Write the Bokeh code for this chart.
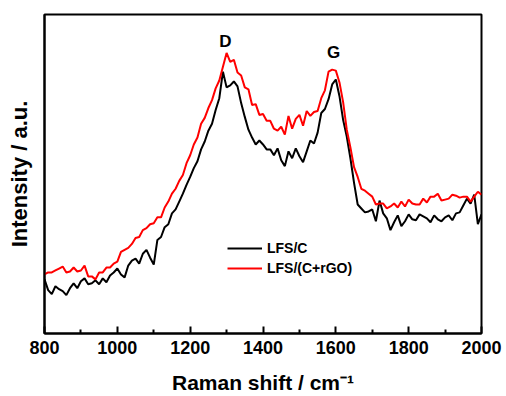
from bokeh.plotting import figure
from bokeh.models import Range1d, FixedTicker, Label, Legend, LegendItem
from bokeh.embed import file_html
from bokeh.resources import INLINE

# Raman shift (cm-1)
shift = list(range(800, 2001, 10))

# LFS/C (arbitrary intensity)
lfs_c = [
    55, 44, 40, 48, 45, 43, 39, 46, 51, 46,
    53, 56, 50, 51, 54, 50, 56, 52, 59, 62,
    66, 60, 57, 69, 74, 76, 71, 81, 85, 77,
    70, 95, 98, 108, 111, 122, 126, 134, 142, 151,
    159, 168, 175, 187, 195, 206, 213, 227, 239, 266,
    250, 252, 256, 251, 234, 220, 207, 199, 192, 196,
    192, 187, 187, 181, 188, 176, 170, 185, 178, 188,
    180, 174, 185, 196, 193, 204, 224, 228, 238, 253,
    258, 241, 217, 200, 178, 153, 131, 127, 123, 124,
    126, 114, 135, 122, 117, 105, 113, 120, 109, 114,
    121, 116, 115, 121, 119, 117, 113, 120, 116, 114,
    118, 120, 115, 122, 123, 130, 137, 132, 141, 111,
    121,
]

# LFS/(C+rGO)
lfs_c_rgo = [
    60, 62, 62, 64, 66, 68, 62, 63, 67, 63,
    64, 69, 58, 58, 55, 62, 62, 67, 67, 71,
    73, 83, 85, 87, 91, 97, 98, 105, 107, 111,
    112, 118, 118, 128, 134, 142, 147, 155, 161, 173,
    181, 192, 199, 213, 219, 229, 237, 249, 257, 271,
    285, 276, 278, 265, 262, 250, 248, 232, 233, 222,
    223, 216, 216, 208, 206, 210, 202, 221, 208, 218,
    222, 211, 226, 221, 225, 226, 239, 247, 266, 268,
    267, 255, 235, 207, 189, 169, 159, 147, 145, 142,
    139, 131, 132, 132, 127, 129, 132, 128, 134, 129,
    136, 132, 131, 131, 137, 133, 139, 139, 142, 135,
    136, 137, 141, 140, 138, 139, 139, 134, 139, 144,
    141,
]

major_ticks = [800, 1000, 1200, 1400, 1600, 1800, 2000]
minor_ticks = [900, 1100, 1300, 1500, 1700, 1900]

peak_names = ["D", "G"]
peak_pos = [1297, 1594]
peak_y = [297, 285]

FONT = "Liberation Sans"

p = figure(width=506, height=396, output_backend="svg", toolbar_location=None,
           x_range=Range1d(800, 2000), y_range=Range1d(0, 324),
           min_border_left=44, min_border_right=25, min_border_top=14,
           min_border_bottom=58)
p.background_fill_color = "white"
p.border_fill_color = "white"
p.grid.visible = False
p.outline_line_color = "black"
p.outline_line_width = 2
p.outline_line_alpha = 1

xa = p.xaxis[0]
xa.ticker = FixedTicker(ticks=major_ticks, minor_ticks=minor_ticks)
xa.axis_line_width = 2
xa.major_tick_in = 7
xa.major_tick_out = 0
xa.minor_tick_in = 4
xa.minor_tick_out = 0
xa.major_tick_line_width = 2
xa.minor_tick_line_width = 2
xa.major_label_text_font = FONT
xa.major_label_text_font_style = "bold"
xa.major_label_text_font_size = "18px"
xa.major_label_text_color = "black"
xa.major_label_standoff = 7
xa.axis_label = "Raman shift / cm\u207b\u00b9"
xa.axis_label_text_font = FONT
xa.axis_label_text_font_style = "bold"
xa.axis_label_text_font_size = "21px"
xa.axis_label_text_color = "black"
xa.axis_label_standoff = 14

ya = p.yaxis[0]
ya.ticker = FixedTicker(ticks=[], minor_ticks=[])
ya.axis_line_width = 2
ya.major_tick_line_color = None
ya.minor_tick_line_color = None
ya.axis_label = "Intensity / a.u."
ya.axis_label_text_font = FONT
ya.axis_label_text_font_style = "bold"
ya.axis_label_text_font_size = "22px"
ya.axis_label_text_color = "black"
ya.axis_label_standoff = 13

r1 = p.line(shift, lfs_c, line_color="black", line_width=2)
r2 = p.line(shift, lfs_c_rgo, line_color="#ff0000", line_width=2)

legend = Legend(items=[LegendItem(label="LFS/C", renderers=[r1]),
                       LegendItem(label="LFS/(C+rGO)", renderers=[r2])],
                location=(183, 55), orientation="vertical",
                glyph_width=35, glyph_height=20, label_height=20,
                label_standoff=5, spacing=0, padding=0, margin=0,
                border_line_color=None, background_fill_alpha=0,
                label_text_font=FONT, label_text_font_style="bold",
                label_text_font_size="14px", label_text_color="black")
p.add_layout(legend, "center")

for name, xp, yp in zip(peak_names, peak_pos, peak_y):
    p.add_layout(Label(x=xp, y=yp, text=name, text_align="center",
                       text_baseline="alphabetic", text_font=FONT,
                       text_font_style="bold", text_font_size="17px",
                       text_color="black"))

open("out.html", "w").write(file_html(p, INLINE))
